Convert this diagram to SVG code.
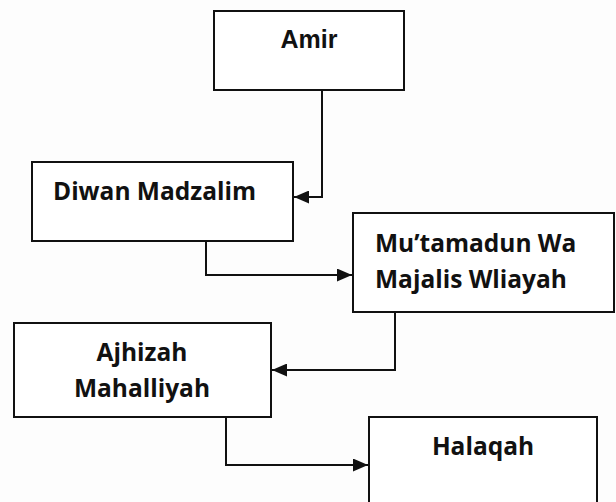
<svg xmlns="http://www.w3.org/2000/svg" width="616" height="502" viewBox="0 0 616 502">
<style>
.box{fill:#ffffff;stroke:#111;stroke-width:2}
.lbl{font-family:"Open Sans","Noto Sans","Liberation Sans",sans-serif;font-weight:bold;font-size:24.5px;fill:#111}
.lbl.arial{font-family:"Liberation Sans",Arial,sans-serif;font-size:25px}
.c{text-anchor:middle}
.edge{fill:none;stroke:#111;stroke-width:2}
</style>
<defs>
<marker id="ah" markerUnits="userSpaceOnUse" markerWidth="15" markerHeight="13" refX="15" refY="6.5" orient="auto">
<path d="M0,0 L15,6.5 L0,13 Z" fill="#111"/>
</marker>
</defs>
<rect width="616" height="502" fill="#fdfdfd"/>
<g id="amir"><rect class="box" x="214" y="11" width="190" height="79"/><text class="lbl arial c" x="309" y="48">Amir</text></g>
<g id="diwan"><rect class="box" x="32" y="162" width="261" height="79"/><text class="lbl" x="53" y="200">Diwan Madzalim</text></g>
<g id="mutamadun"><rect class="box" x="353" y="213" width="261" height="99"/><text class="lbl" x="375" y="252">Mu’tamadun Wa</text><text class="lbl" x="375" y="288">Majalis Wliayah</text></g>
<g id="ajhizah"><rect class="box" x="14" y="323" width="257" height="94"/><text class="lbl c" x="142" y="361">Ajhizah</text><text class="lbl c" x="142" y="397">Mahalliyah</text></g>
<g id="halaqah"><rect class="box" x="369" y="417" width="228" height="95"/><text class="lbl c" x="483" y="455">Halaqah</text></g>
<g id="connectors">
<path class="edge" d="M322 90 V197 H294" marker-end="url(#ah)"/>
<path class="edge" d="M206 241 V275 H352" marker-end="url(#ah)"/>
<path class="edge" d="M395 312 V370 H272" marker-end="url(#ah)"/>
<path class="edge" d="M226 417 V465 H368" marker-end="url(#ah)"/>
</g>
</svg>
